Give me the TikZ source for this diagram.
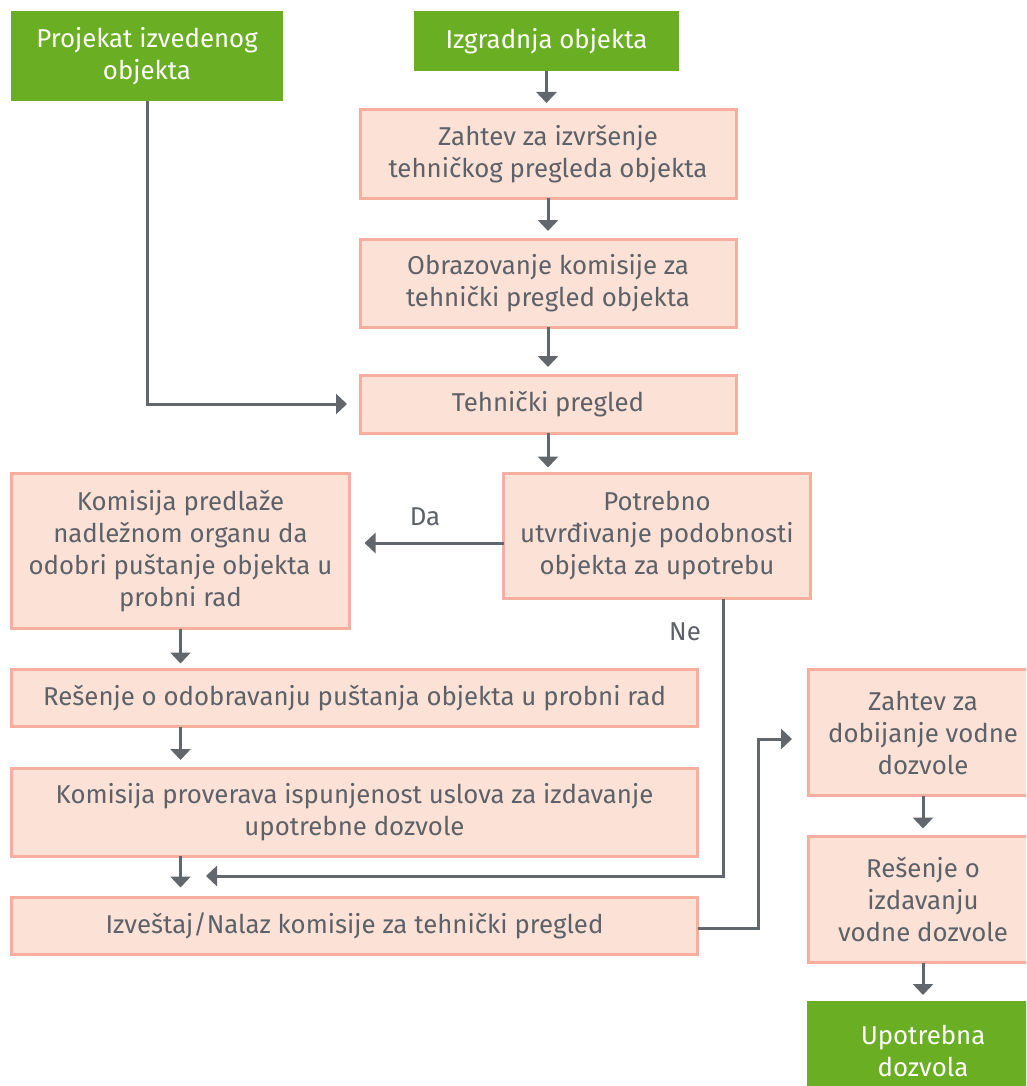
\documentclass[tikz,border=0pt]{standalone}
\usepackage{fontspec}
\setmainfont{Fira Sans}
\usetikzlibrary{arrows.meta,calc}
\definecolor{boxfill}{HTML}{FCE1D6}
\definecolor{boxline}{HTML}{F6AF9F}
\definecolor{grn}{HTML}{6AAF23}
\definecolor{txt}{HTML}{5D6168}
\definecolor{lin}{HTML}{62666D}
\tikzset{
  x=1pt, y=-1pt,
  pbox/.style={draw=boxline, fill=boxfill, line width=3pt, text=txt, align=center,
    inner sep=0pt, outer sep=0pt,
    font=\fontsize{25.8}{32}\selectfont},
  gbox/.style={fill=grn, text=white, align=center, inner sep=0pt, outer sep=0pt,
    font=\fontsize{25.8}{32}\selectfont},
  arr/.style={draw=lin, line width=3pt, -{Triangle[width=20pt,length=11pt]}},
  lbl/.style={text=txt, font=\fontsize{25.8}{32}\selectfont, inner sep=0pt},
}
\begin{document}
\begin{tikzpicture}
\useasboundingbox (0,0) rectangle (1026,1086);
\clip (0,0) rectangle (1026,1086);
\fill[white] (0,0) rectangle (1026,1086);

% green boxes
\node[gbox, minimum width=272pt, minimum height=90pt] (pr) at (147,56) {Projekat izvedenog\\objekta};
\node[gbox, minimum width=265pt, minimum height=60pt] (iz) at (546.5,41) {Izgradnja objekta};

% main column
\node[pbox, minimum width=376pt, minimum height=88pt] (z1) at (548,154) {Zahtev za izvršenje\\tehničkog pregleda objekta};
\node[pbox, minimum width=376pt, minimum height=88pt] (ob) at (548,283) {Obrazovanje komisije za\\tehnički pregled objekta};
\node[pbox, minimum width=376pt, minimum height=58pt] (tp) at (548,404) {Tehnički pregled};
\node[pbox, minimum width=307pt, minimum height=125pt] (pot) at (657,536) {Potrebno\\utvrđivanje podobnosti\\objekta za upotrebu};

% left column
\node[pbox, minimum width=338pt, minimum height=155pt] (kp) at (180.5,551) {Komisija predlaže\\nadležnom organu da\\odobri puštanje objekta u\\probni rad};
\node[pbox, minimum width=686pt, minimum height=57pt] (re) at (354.5,698) {Rešenje o odobravanju puštanja objekta u probni rad};
\node[pbox, minimum width=686pt, minimum height=88pt] (kpr) at (354.5,812) {Komisija proverava ispunjenost uslova za izdavanje\\upotrebne dozvole};
\node[pbox, minimum width=686pt, minimum height=57pt] (ivz) at (354.5,926) {Izveštaj/Nalaz komisije za tehnički pregled};

% right column
\node[pbox, minimum width=230pt, minimum height=126pt] (zv) at (923,732.5) {Zahtev za\\dobijanje vodne\\dozvole};
\node[pbox, minimum width=230pt, minimum height=126pt] (rv) at (923,899.5) {Rešenje o\\izdavanju\\vodne dozvole};
\node[gbox, minimum width=232pt, minimum height=100pt] (ud) at (923,1051) {Upotrebna\\dozvola};

% labels
\node[lbl] (da) at (425,517) {Da};
\node[lbl] (ne) at (685,632) {Ne};

% connectors
\draw[arr, shorten >=7pt] (iz.south) -- (iz.south |- z1.north);
\draw[arr, shorten >=8pt] (z1.south) -- (ob.north);
\draw[arr, shorten >=8pt] (ob.south) -- (tp.north);
\draw[arr, shorten >=6pt] (tp.south) -- (tp.south |- pot.north);
\draw[arr, shorten >=13pt] (pr.south) |- (tp.west);
\draw[arr, shorten >=15pt] ($(pot.west)+(0,7)$) -- ($(kp.east)+(0,-8)$);
\draw[arr, shorten >=6pt] (kp.south) -- (kp.south |- re.north);
\draw[arr, shorten >=8pt] (re.south -| kp.south) -- (kpr.north -| kp.south);
\draw[arr, shorten >=10pt] (kpr.south -| kp.south) -- (ivz.north -| kp.south);
\coordinate (neend) at (206,876);
\draw[arr] ($(pot.south west)+(220,0)$) |- (neend);
\draw[arr, shorten >=16pt] ($(ivz.east)+(0,2)$) -| (758,739) -- ($(zv.west)+(0,6.5)$);
\draw[arr, shorten >=8pt] (zv.south) -- (rv.north);
\draw[arr, shorten >=6pt] (rv.south) -- (ud.north);
\end{tikzpicture}
\end{document}
